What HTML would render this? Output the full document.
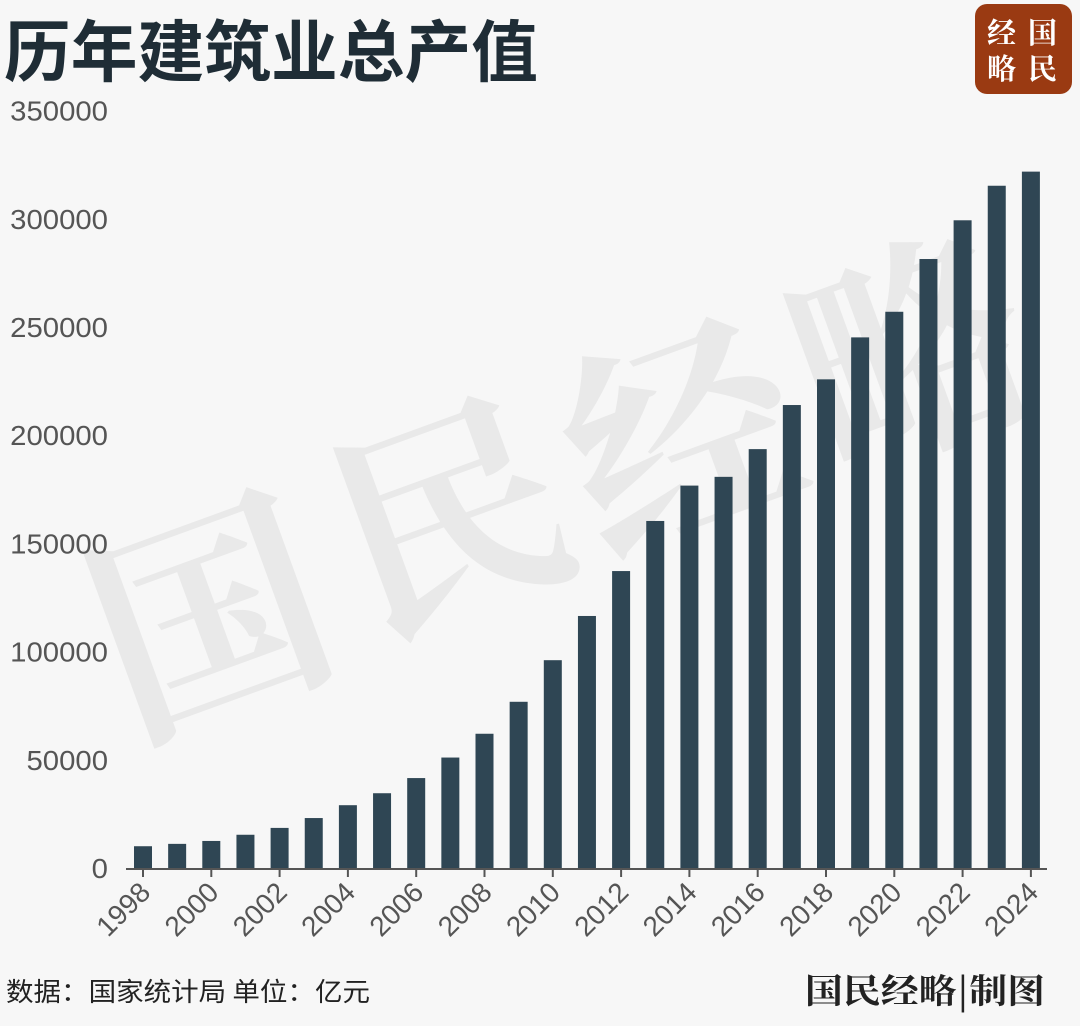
<!DOCTYPE html>
<html><head><meta charset="utf-8"><style>
body{margin:0;background:#f7f7f7;width:1080px;height:1021px;overflow:hidden;font-family:"Liberation Sans","Noto Sans CJK SC",sans-serif}
</style></head><body>
<svg width="1080" height="1021" xmlns="http://www.w3.org/2000/svg">
<rect width="1080" height="1021" fill="#f7f7f7"/>
<g fill="#e9e9e9" font-family="'Noto Serif CJK SC',serif" font-weight="bold" font-size="230">
<text x="90" y="690" transform="rotate(-20 240 600)">国</text>
<text x="330" y="600" transform="rotate(-20 450 500)">民</text>
<text x="560" y="520" transform="rotate(-20 680 420)">经</text>
<text x="790" y="440" transform="rotate(-20 900 340)">略</text>
</g>
<text x="4" y="76" font-size="67" font-weight="bold" fill="#1f2d36" font-family="'Noto Sans CJK SC',sans-serif" textLength="534" lengthAdjust="spacingAndGlyphs">历年建筑业总产值</text>
<g font-family="'Noto Serif CJK SC',serif" font-weight="bold" font-size="29" fill="#fff">
<rect x="975" y="4" width="97" height="90" rx="12" fill="#9a3a12"/>
<text x="987" y="43">经</text>
<text x="1028" y="43">国</text>
<text x="987" y="79">略</text>
<text x="1028" y="79">民</text>
</g>
<g id="yaxis"></g>
<g id="bars"></g>
<g id="xaxis"></g>
<text x="6" y="1001" font-size="26" fill="#222" font-family="'Noto Sans CJK SC',sans-serif" textLength="364" lengthAdjust="spacingAndGlyphs">数据：国家统计局 单位：亿元</text>
<text x="1045" y="1003" text-anchor="end" font-size="34" font-weight="bold" fill="#222" font-family="'Noto Serif CJK SC',serif" textLength="240" lengthAdjust="spacingAndGlyphs">国民经略|制图</text>
</svg>
<script>
const years=[1998,1999,2000,2001,2002,2003,2004,2005,2006,2007,2008,2009,2010,2011,2012,2013,2014,2015,2016,2017,2018,2019,2020,2021,2022,2023,2024];
const values=[10062,11153,12498,15362,18527,23084,29021,34552,41557,51044,62037,76808,96031,116463,137218,160366,176713,180757,193567,213944,225817,245203,257040,281414,299313,315275,321800];
const yTicks=[0,50000,100000,150000,200000,250000,300000,350000];
const NS="http://www.w3.org/2000/svg";
const y0=868,pxPer=108.2/50000;
const Y=v=>y0-v*pxPer;
const X=i=>143+i*34.15;
const bw=18;
function mk(tag,attrs,parent){const e=document.createElementNS(NS,tag);for(const k in attrs)e.setAttribute(k,attrs[k]);parent.appendChild(e);return e;}
const ya=document.getElementById('yaxis'),bg=document.getElementById('bars'),xa=document.getElementById('xaxis');
yTicks.forEach(t=>{const e=mk('text',{x:108,y:Y(t)+10,'text-anchor':'end','font-size':28,fill:'#555','textLength':String(t).length*16.3,'lengthAdjust':'spacingAndGlyphs'},ya);e.textContent=t;

});
values.forEach((v,i)=>{const r=mk('rect',{x:X(i)-bw/2,y:Y(v),width:bw,height:y0-Y(v),fill:'#2f4654'},bg);

});
const ax=mk('line',{x1:126,x2:1047,y1:y0+1,y2:y0+1,stroke:'#555','stroke-width':2},xa);


years.forEach((yr,i)=>{if(yr%2)return;const x=X(i);
const tk=mk('line',{x1:x,x2:x,y1:y0,y2:y0+9,stroke:'#555','stroke-width':2},xa);


const t=mk('text',{x:x+9,y:y0+26,'text-anchor':'end','font-size':28,fill:'#555',transform:`rotate(-45 ${x+9} ${y0+26})`},xa);t.textContent=yr;

});
</script>
</body></html>
